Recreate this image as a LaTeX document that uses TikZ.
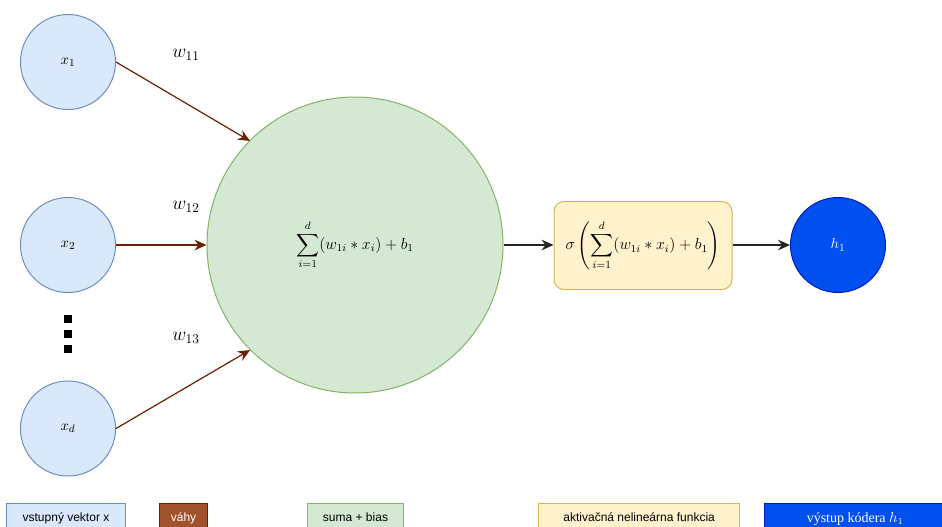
\documentclass[tikz,border=0pt]{standalone}
\usepackage{amsmath}
\usepackage{fontspec}
\setmainfont{Liberation Serif}
\setsansfont{Liberation Sans}
\usetikzlibrary{arrows.meta}
\definecolor{inFill}{HTML}{DAE8FC}
\definecolor{inLine}{HTML}{6C8EBF}
\definecolor{sumFill}{HTML}{D5E8D4}
\definecolor{sumLine}{HTML}{82B366}
\definecolor{actFill}{HTML}{FFF2CC}
\definecolor{actLine}{HTML}{D6B656}
\definecolor{wFill}{HTML}{A0522D}
\definecolor{wLine}{HTML}{6D1F00}
\definecolor{outFill}{HTML}{0050EF}
\definecolor{outLine}{HTML}{001DBC}
\begin{document}
\begin{tikzpicture}[x=0.75pt,y=-0.75pt,
  inp/.style={circle,draw=inLine,fill=inFill,line width=0.75pt,minimum size=71.25pt,inner sep=0pt,font=\fontsize{11}{13}\selectfont},
  weight/.style={-{Stealth[length=9pt,width=8pt,inset=3pt]},draw=wLine,line width=0.9pt},
  flow/.style={-{Stealth[length=9pt,width=8pt,inset=3pt]},draw=black!85,line width=0.9pt},
  wlabel/.style={font=\fontsize{14}{17}\selectfont},
  formula/.style={font=\fontsize{11.5}{14}\selectfont},
  legend/.style={draw,line width=0.75pt,minimum height=20.25pt,anchor=north west,inner sep=0pt,font=\sffamily\fontsize{9}{11}\selectfont,text depth=0pt},
  dot/.style={fill=black,minimum size=5.6pt,inner sep=0pt}]
\clip (0,0) rectangle (942,526);
\useasboundingbox (0,0) rectangle (942,526);

% input neurons
\node[inp] (x1) at (68,62) {$x_1$};
\node[inp] (x2) at (68,245) {$x_2$};
\node[inp] (xd) at (68,428.5) {$x_d$};

% ellipsis between x_2 and x_d
\node[dot] (d1) at (68,319) {};
\node[dot] (d2) at (68,334) {};
\node[dot] (d3) at (68,349) {};

% weighted sum
\node[circle,draw=sumLine,fill=sumFill,line width=0.75pt,minimum size=222pt,inner sep=0pt,formula] (sum) at (355,245)
  {$\displaystyle\sum_{i=1}^{d}(w_{1i}*x_i)+b_1$};

% activation
\node[draw=actLine,fill=actFill,rounded corners=7.5pt,line width=0.75pt,minimum width=133.5pt,minimum height=66pt,inner sep=0pt,formula] (act) at (643,245.5)
  {$\displaystyle\sigma\left(\sum_{i=1}^{d}(w_{1i}*x_i)+b_1\right)$};

% output neuron
\node[circle,draw=outLine,fill=outFill,line width=0.75pt,minimum size=71.25pt,inner sep=0pt,text=white,font=\fontsize{11}{13}\selectfont] (h1) at (838,245) {$h_1$};

% connections
\coordinate (t1) at (250,141);
\coordinate (td) at (250,350);
\draw[weight] (x1.east) -- (t1);
\draw[weight] (x2.east) -- (sum.west);
\draw[weight] (xd.east) -- (td);
\draw[flow] (sum.east) -- (sum.east -| act.west);
\draw[flow] (act.east |- h1.west) -- (h1.west);

% weight labels
\node[wlabel] (w11) at (186,55) {$w_{11}$};
\node[wlabel] (w12) at (186,207) {$w_{12}$};
\node[wlabel] (w13) at (186,338) {$w_{13}$};

% legend
\node[legend,draw=inLine,fill=inFill,minimum width=89.25pt] (l1) at (6,503) {vstupný vektor x};
\node[legend,draw=wLine,fill=wFill,text=white,minimum width=36pt] (l2) at (159,503) {váhy};
\node[legend,draw=sumLine,fill=sumFill,minimum width=72pt] (l3) at (307,503) {suma + bias};
\node[legend,draw=actLine,fill=actFill,minimum width=151pt] (l4) at (538,503) {aktivačná nelineárna funkcia};
\node[legend,draw=outLine,fill=outFill,text=white,minimum width=136pt,font=\fontsize{10.5}{12}\selectfont] (l5) at (764,503) {výstup kódera $h_1$};
\end{tikzpicture}
\end{document}
